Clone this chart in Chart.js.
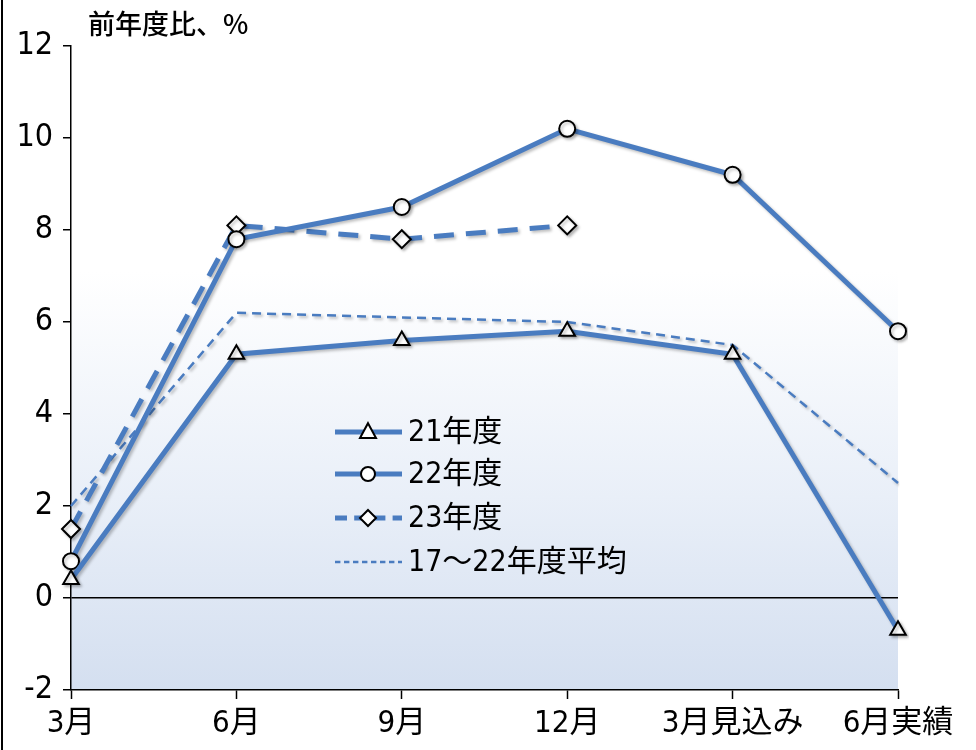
<!DOCTYPE html>
<html>
<head>
<meta charset="utf-8">
<script src="https://cdn.jsdelivr.net/npm/chart.js@4"></script>
<style>
    html, body { margin: 0; padding: 0; background: #fff; }
    #wrap { position: relative; width: 976px; height: 750px; }
</style>
</head>
<body>
<div id="wrap"><canvas id="salesChart"></canvas></div>
<script>
// 前年度比の推移
const categories = ['3月', '6月', '9月', '12月', '3月見込み', '6月実績'];
const fy21 = [0.4, 5.3, 5.6, 5.8, 5.3, -0.7];
const fy22 = [0.8, 7.8, 8.5, 10.2, 9.2, 5.8];
const fy23 = [1.5, 8.1, 7.8, 8.1, null, null];
const avg1722 = [2.0, 6.2, 6.1, 6.0, 5.5, 2.5];
const yTicks = [-2, 0, 2, 4, 6, 8, 10, 12];

const BLUE = '#4a7cc0';
const FONT = '"DejaVu Sans Condensed", "Liberation Sans Narrow", "Noto Sans CJK JP", sans-serif';

// plot background gradient, left frame, title and legend
const decor = {
    id: 'decor',
    beforeDraw(chart) {
        const { ctx, chartArea: a } = chart;
        const g = ctx.createLinearGradient(0, a.top, 0, a.bottom);
        g.addColorStop(0, '#ffffff');
        g.addColorStop(0.35, '#ffffff');
        g.addColorStop(0.7, '#e9eff8');
        g.addColorStop(1, '#d4dff0');
        ctx.save();
        ctx.fillStyle = g;
        ctx.fillRect(a.left, a.top, a.right - a.left, a.bottom - a.top);
        ctx.restore();
    },
    beforeDatasetsDraw(chart) {
        const ctx = chart.ctx;
        ctx.save();
        ctx.shadowColor = 'rgba(0,0,0,0.25)';
        ctx.shadowBlur = 3;
        ctx.shadowOffsetX = 2;
        ctx.shadowOffsetY = 2;
    },
    afterDatasetsDraw(chart) {
        chart.ctx.restore();
    },
    afterDraw(chart) {
        const ctx = chart.ctx;
        ctx.save();
        // left frame
        ctx.strokeStyle = '#000';
        ctx.lineWidth = 2;
        ctx.beginPath();
        ctx.moveTo(2, 0);
        ctx.lineTo(2, 750);
        ctx.stroke();

        // unit title
        ctx.fillStyle = '#000';
        ctx.font = '500 27px "Noto Sans CJK JP", sans-serif';
        ctx.textBaseline = 'middle';
        ctx.textAlign = 'left';
        ctx.fillText('前年度比、%', 88, 24);

        // legend
        const rows = [432, 474, 518, 562];
        chart.data.datasets.forEach(function(ds, i) {
            const y = rows[i];
            ctx.strokeStyle = ds.borderColor;
            ctx.lineWidth = ds.borderWidth;
            ctx.setLineDash(ds.borderDash ? ds.borderDash.map(function(d) { return d * 0.6; }) : []);
            ctx.beginPath();
            ctx.moveTo(335, y);
            ctx.lineTo(402, y);
            ctx.stroke();
            ctx.setLineDash([]);
            if (ds.pointRadius > 0) {
                ctx.fillStyle = '#fff';
                ctx.strokeStyle = '#000';
                ctx.lineWidth = 2;
                ctx.beginPath();
                drawMarker(ctx, ds.pointStyle, 368, y, ds.pointRadius - 1);
                ctx.fill();
                ctx.stroke();
            }
            ctx.fillStyle = '#000';
            ctx.font = '30px ' + FONT;
            ctx.fillText(ds.label, 408, y + 1);
        });
        ctx.restore();
    }
};

function drawMarker(ctx, style, x, y, r) {
    if (style === 'circle') {
        ctx.arc(x, y, r, 0, Math.PI * 2);
    } else if (style === 'triangle') {
        ctx.moveTo(x, y - r * 1.1);
        ctx.lineTo(x + r, y + r * 0.75);
        ctx.lineTo(x - r, y + r * 0.75);
        ctx.closePath();
    } else {
        ctx.moveTo(x, y - r);
        ctx.lineTo(x + r, y);
        ctx.lineTo(x, y + r);
        ctx.lineTo(x - r, y);
        ctx.closePath();
    }
}

function series(label, data, opts) {
    return Object.assign({
        label: label,
        data: data,
        borderColor: BLUE,
        borderWidth: 5,
        pointBackgroundColor: '#fff',
        pointBorderColor: '#000',
        pointBorderWidth: 2,
        pointRadius: 8,
        pointHoverRadius: 8,
        tension: 0,
        fill: false,
        spanGaps: false
    }, opts);
}

new Chart(document.getElementById('salesChart'), {
    type: 'line',
    data: {
        labels: categories,
        datasets: [
            series('21年度', fy21, { pointStyle: 'triangle', pointRadius: 9 }),
            series('22年度', fy22, { pointStyle: 'circle' }),
            series('23年度', fy23, { pointStyle: 'rectRot', pointRadius: 9, borderDash: [20, 12] }),
            series('17～22年度平均', avg1722, { pointRadius: 0, pointHoverRadius: 0, borderWidth: 2.5, borderDash: [9, 6] })
        ]
    },
    options: {
        responsive: true,
        maintainAspectRatio: false,
        animation: false,
        layout: { padding: { top: 46, right: 78, bottom: 0, left: 0 } },
        plugins: {
            legend: { display: false },
            tooltip: { enabled: false }
        },
        scales: {
            x: {
                offset: false,
                afterFit: function(s) { s.height = 60; },
                grid: { color: 'transparent', tickColor: '#000', tickLength: 9, tickWidth: 1.5 },
                border: { color: '#000', width: 1.5 },
                ticks: {
                    color: '#000',
                    padding: 6,
                    maxRotation: 0,
                    autoSkip: false,
                    font: { family: FONT, size: 31 }
                }
            },
            y: {
                min: -2,
                max: 12,
                afterFit: function(s) { s.width = 71; },
                afterBuildTicks: function(s) { s.ticks = yTicks.map(function(v) { return { value: v }; }); },
                grid: {
                    color: function(c) { return c.tick && c.tick.value === 0 ? '#000' : 'transparent'; },
                    lineWidth: 1.5,
                    tickColor: '#000',
                    tickLength: 8,
                    tickWidth: 1.5
                },
                border: { color: '#000', width: 1.5 },
                ticks: {
                    color: '#000',
                    padding: 10,
                    font: { family: FONT, size: 32 }
                }
            }
        }
    },
    plugins: [decor]
});
</script>
</body>
</html>
